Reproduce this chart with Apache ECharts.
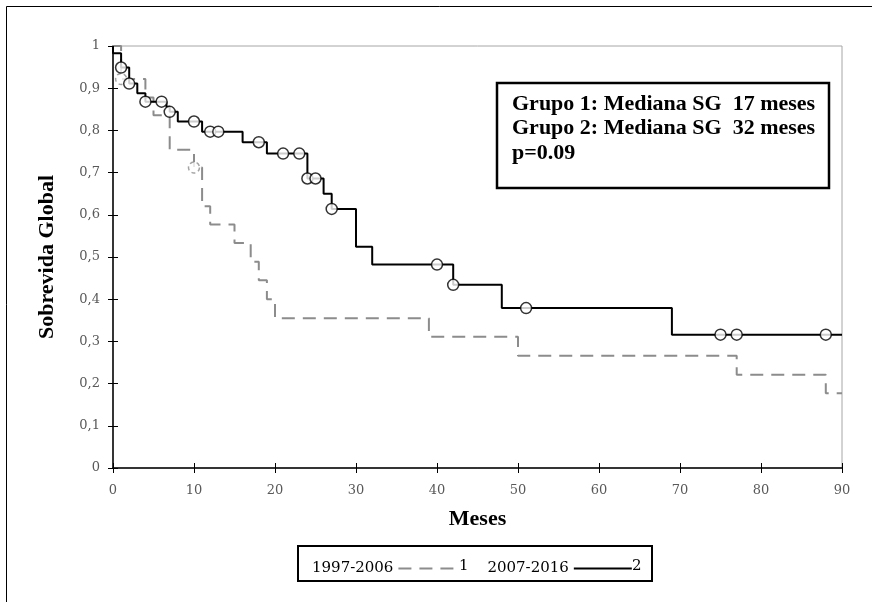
<!DOCTYPE html>
<html>
<head>
<meta charset="utf-8">
<script src="https://cdn.jsdelivr.net/npm/echarts@6/dist/echarts.min.js"></script>
<style>
html, body { margin: 0; padding: 0; background: #fff; }
#chart { width: 872px; height: 602px; }
</style>
</head>
<body>
<div id="chart"></div>
<script>
// grupo 1 (1997-2006): tiempos de evento y sobrevida
var g1Time = [0, 1, 4, 5, 7, 10, 11, 12, 15, 17, 18, 19, 20, 39, 50, 77, 88, 90];
var g1Surv = [1, 0.922, 0.878, 0.836, 0.754, 0.712, 0.62, 0.577, 0.533, 0.489, 0.445, 0.4, 0.355, 0.311, 0.266, 0.221, 0.177, 0.177];
var g1CensTime = [1, 10];
var g1CensSurv = [0.922, 0.712];

// grupo 2 (2007-2016)
var g2Time = [0, 0, 1, 2, 3, 4, 6.6, 7, 8, 11, 16, 19, 24, 26, 27, 30, 32, 42, 48, 69, 90];
var g2Surv = [1, 0.983, 0.949, 0.911, 0.888, 0.868, 0.856, 0.844, 0.821, 0.797, 0.772, 0.745, 0.686, 0.65, 0.614, 0.524, 0.482, 0.434, 0.379, 0.316, 0.316];
var g2CensTime = [1, 2, 4, 6, 7, 10, 12, 13, 18, 21, 23, 24, 25, 27, 40, 42, 51, 75, 77, 88];
var g2CensSurv = [0.949, 0.911, 0.868, 0.868, 0.844, 0.821, 0.797, 0.797, 0.772, 0.745, 0.745, 0.686, 0.686, 0.614, 0.482, 0.434, 0.379, 0.316, 0.316, 0.316];

var groupNames = ["1997-2006", "2007-2016"];
var groupLabels = ["1", "2"];
var infoLines = ["Grupo 1: Mediana SG  17 meses", "Grupo 2: Mediana SG  32 meses", "p=0.09"];

function pairs(xs, ys) {
  var out = [];
  for (var i = 0; i < xs.length; i++) out.push([xs[i], ys[i]]);
  return out;
}

var grayCol = "#8c8c8c";
var serif = "DejaVu Serif";
var boldSerif = "Liberation Serif";

var chart = echarts.init(document.getElementById("chart"));

var tickLabel = { color: "#595959", fontFamily: serif, fontSize: 13 };
var titleStyle = { color: "#000", fontFamily: boldSerif, fontWeight: "bold", fontSize: 22 };

var option = {
  animation: false,
  backgroundColor: "#fff",
  grid: {
    left: 113, right: 30, top: 46, bottom: 134,
    show: true, borderColor: "#a6a6a6", borderWidth: 1
  },
  legend: {
    data: groupNames,
    align: "right",
    left: 307,
    top: 556,
    itemWidth: 58,
    itemHeight: 14,
    itemGap: 30,
    itemStyle: { opacity: 0 },
    textStyle: { color: "#000", fontFamily: serif, fontSize: 15 }
  },
  xAxis: [{
    type: "value", min: 0, max: 90, interval: 10,
    name: "Meses", nameLocation: "middle", nameGap: 40,
    nameTextStyle: titleStyle,
    axisLine: { lineStyle: { color: "#000", width: 1.5 } },
    axisTick: { length: 5, lineStyle: { color: "#000" } },
    axisLabel: Object.assign({ margin: 16 }, tickLabel),
    splitLine: { show: false }
  }, {
    type: "value", min: 0, max: 90, interval: 10, position: "bottom",
    axisLine: { show: false },
    axisTick: { inside: true, length: 5, lineStyle: { color: "#000" } },
    axisLabel: { show: false },
    splitLine: { show: false }
  }],
  yAxis: [{
    type: "value", min: 0, max: 1, interval: 0.1,
    name: "Sobrevida Global", nameLocation: "middle", nameGap: 55,
    nameTextStyle: titleStyle,
    axisLine: { show: true, lineStyle: { color: "#000", width: 1.5 } },
    axisTick: { show: true, length: 5, lineStyle: { color: "#000" } },
    axisLabel: Object.assign({
      margin: 13,
      formatter: function (v) { return String(+v.toFixed(1)).replace(".", ","); }
    }, tickLabel),
    splitLine: { show: false }
  }, {
    type: "value", min: 0, max: 1, interval: 0.1, position: "left",
    axisLine: { show: false },
    axisTick: { show: true, inside: true, length: 5, lineStyle: { color: "#000" } },
    axisLabel: { show: false },
    splitLine: { show: false }
  }],
  series: [{
    name: groupNames[0],
    type: "line",
    step: "end",
    symbol: "none",
    lineStyle: { color: grayCol, width: 2, type: [13, 8] },
    itemStyle: { color: grayCol },
    data: pairs(g1Time, g1Surv),
    z: 2
  }, {
    name: groupNames[1],
    type: "line",
    step: "end",
    symbol: "none",
    lineStyle: { color: "#000", width: 2 },
    itemStyle: { color: "#000" },
    data: pairs(g2Time, g2Surv),
    z: 3
  }, {
    name: "cens1",
    type: "scatter",
    symbol: "circle",
    symbolSize: 11,
    itemStyle: { color: "#fff", borderColor: grayCol, borderWidth: 1.5, borderType: [4, 3] },
    data: pairs(g1CensTime, g1CensSurv),
    z: 4
  }, {
    name: "cens2",
    type: "scatter",
    symbol: "circle",
    symbolSize: 11,
    itemStyle: { color: "#fff", borderColor: "#000", borderWidth: 1.5 },
    data: pairs(g2CensTime, g2CensSurv),
    z: 5
  }],
  graphic: [
    // marco exterior
    { type: "rect", shape: { x: 6.5, y: 6.5, width: 900, height: 700 },
      style: { fill: null, stroke: "#000", lineWidth: 1 }, silent: true, z: 0 },
    // cuadro de medianas
    { type: "rect", shape: { x: 497, y: 83, width: 332, height: 105 },
      style: { fill: "#fff", stroke: "#000", lineWidth: 2.5 }, z: 10 },
    { type: "text", left: 512, top: 92, z: 11,
      style: { text: infoLines.join("\n"), fill: "#000", font: "bold 22px 'Liberation Serif'", lineHeight: 24.5 } },
    // cuadro de leyenda
    { type: "rect", shape: { x: 298, y: 546, width: 354, height: 35 },
      style: { fill: null, stroke: "#000", lineWidth: 2 }, z: 10 },
    { type: "text", x: 459, y: 566, z: 11,
      style: { text: groupLabels[0], fill: "#000", font: "15px 'DejaVu Serif'", verticalAlign: "middle" } },
    { type: "text", x: 632, y: 566, z: 11,
      style: { text: groupLabels[1], fill: "#000", font: "15px 'DejaVu Serif'", verticalAlign: "middle" } }
  ]
};

chart.setOption(option);
</script>
</body>
</html>
